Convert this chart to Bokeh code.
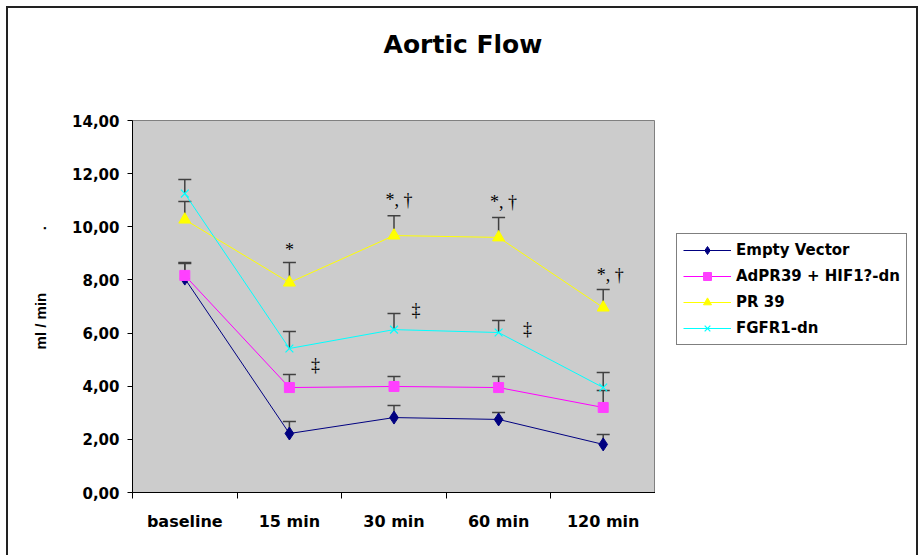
from bokeh.plotting import figure
from bokeh.layouts import column, row
from bokeh.models import (ColumnDataSource, Range1d, FixedTicker, CustomJSTickFormatter,
                          Whisker, TeeHead, Div)
from bokeh.embed import file_html
from bokeh.resources import INLINE

categories = ["baseline", "15 min", "30 min", "60 min", "120 min"]

empty_vector = [8.05, 2.22, 2.82, 2.75, 1.81]
empty_vector_err = [0.57, 0.45, 0.45, 0.26, 0.37]
adpr39_hif = [8.17, 3.95, 3.99, 3.95, 3.20]
adpr39_hif_err = [0.49, 0.49, 0.38, 0.42, 0.64]
pr39 = [10.27, 7.90, 9.67, 9.60, 6.96]
pr39_err = [0.68, 0.76, 0.75, 0.75, 0.68]
fgfr1_dn = [11.25, 5.42, 6.13, 6.02, 3.95]
fgfr1_dn_err = [0.53, 0.64, 0.61, 0.45, 0.57]

series_names = ["Empty Vector", "AdPR39 + HIF1?-dn", "PR 39", "FGFR1-dn"]

y_ticks = [0, 2, 4, 6, 8, 10, 12, 14]

# significance annotations: (category index, y value, text)
ann_cat = [1, 2, 3, 4, 1, 2, 3]
ann_y = [9.11, 10.99, 10.95, 8.17, 4.78, 6.85, 6.17]
ann_text = ["*", "*, \u2020", "*, \u2020", "*, \u2020", "\u2021", "\u2021", "\u2021"]
ann_dx = [0, 5, 5, 7, 26, 22, 29]

FONT = "DejaVu Sans"
NB = "\u00a0"

title = Div(text='<div style="width:922px; text-align:center; font-family:\'DejaVu Sans\'; '
                 'font-weight:bold; font-size:25px; line-height:29px; padding-top:30px; '
                 'padding-left:4px; color:black;">Aortic Flow</div>',
            width=922, height=60, margin=0)

p = figure(width=655, height=495, output_backend="svg", toolbar_location=None,
           x_range=Range1d(0, len(categories)), y_range=Range1d(0, 14),
           min_border_left=132, min_border_right=0, min_border_top=60,
           min_border_bottom=63)
p.background_fill_color = "#CCCCCC"
p.border_fill_color = "white"
p.outline_line_color = "#808080"
p.outline_line_width = 1
p.xgrid.visible = False
p.ygrid.visible = False

xs = [i + 0.5 for i in range(len(categories))]

# axes
p.xaxis.ticker = FixedTicker(ticks=xs, minor_ticks=list(range(len(categories) + 1)))
p.xaxis.formatter = CustomJSTickFormatter(args=dict(labels=categories),
                                          code="return labels[Math.floor(tick)];")
p.xaxis.major_tick_out = 0
p.xaxis.major_tick_in = 0
p.xaxis.minor_tick_out = 6
p.xaxis.minor_tick_in = 0
p.xaxis.minor_tick_line_color = "black"
p.xaxis.axis_line_color = "black"
p.xaxis.major_label_text_font = FONT
p.xaxis.major_label_text_font_style = "bold"
p.xaxis.major_label_text_font_size = "16px"
p.xaxis.major_label_text_color = "black"
p.xaxis.major_label_standoff = 13

p.yaxis.ticker = FixedTicker(ticks=y_ticks, minor_ticks=[])
p.yaxis.formatter = CustomJSTickFormatter(code="return tick.toFixed(2).replace('.', ',');")
p.yaxis.major_tick_out = 5
p.yaxis.major_tick_in = 0
p.yaxis.major_tick_line_color = "black"
p.yaxis.axis_line_color = "black"
p.yaxis.major_label_text_font = FONT
p.yaxis.major_label_text_font_style = "bold"
p.yaxis.major_label_text_font_size = "15px"
p.yaxis.major_label_text_color = "black"
p.yaxis.major_label_standoff = 8
p.yaxis.axis_label = NB * 9 + "ml / min" + NB * 15 + "."
p.yaxis.axis_label_text_font = "Liberation Sans"
p.yaxis.axis_label_text_font_style = "bold"
p.yaxis.axis_label_text_font_size = "15px"
p.yaxis.axis_label_text_color = "black"
p.yaxis.axis_label_standoff = 20

series = [
    (series_names[0], empty_vector, empty_vector_err, "#000080", "#000080", "diamond", 13),
    (series_names[1], adpr39_hif, adpr39_hif_err, "#FF00FF", "#FF40FF", "square", 10),
    (series_names[2], pr39, pr39_err, "#FFFF00", "#FFFF00", "triangle", 12),
    (series_names[3], fgfr1_dn, fgfr1_dn_err, "#00FFFF", "#00FFFF", "x", 11),
]

# legend panel (its own figure, to the right of the plot)
lf = figure(width=267, height=495, output_backend="svg", toolbar_location=None,
            x_range=Range1d(0, 1), y_range=Range1d(-2, -1),
            min_border_left=0, min_border_right=0, min_border_top=60, min_border_bottom=63,
            x_axis_location=None, y_axis_location=None)
lf.outline_line_color = None
lf.background_fill_color = "white"
lf.border_fill_color = "white"
lf.grid.visible = False

for name, vals, errs, lcol, mcol, marker, size in series:
    src = ColumnDataSource(dict(x=xs, y=vals, upper=[v + e for v, e in zip(vals, errs)]))
    w = Whisker(source=src, base="x", lower="y", upper="upper", dimension="height",
                line_color="#404040", line_width=1.5, level="underlay",
                upper_head=TeeHead(size=13, line_color="#404040", line_width=1.5),
                lower_head=None)
    p.add_layout(w)

for name, vals, errs, lcol, mcol, marker, size in series:
    src = ColumnDataSource(dict(x=xs, y=vals))
    for fig, kw in ((p, {}), (lf, {"legend_label": name})):
        fig.line("x", "y", source=src, line_color=lcol, line_width=1, **kw)
        if marker == "x":
            fig.scatter("x", "y", source=src, marker=marker, size=size, line_color=mcol,
                        line_width=1.2, **kw)
        else:
            fig.scatter("x", "y", source=src, marker=marker, size=size, fill_color=mcol,
                        line_color=mcol, **kw)

# annotations
ann_src = ColumnDataSource(dict(x=[ann_cat[i] + 0.5 for i in range(len(ann_cat))],
                                y=ann_y, text=ann_text, dx=ann_dx))
p.text("x", "y", text="text", source=ann_src, x_offset="dx", text_align="center",
       text_baseline="middle", text_font_size="18px", text_color="black",
       text_font="DejaVu Sans")

lg = lf.legend[0]
lg.location = (21, 147)
lg.border_line_color = "black"
lg.border_line_width = 1
lg.background_fill_color = "white"
lg.background_fill_alpha = 1
lg.label_text_font = FONT
lg.label_text_font_style = "bold"
lg.label_text_font_size = "15px"
lg.label_text_color = "black"
lg.glyph_width = 48
lg.glyph_height = 20
lg.label_height = 20
lg.spacing = 6
lg.padding = 6
lg.margin = 0
lg.label_standoff = 5

layout = column(title, row(p, lf, spacing=0), spacing=0)
layout.stylesheets = [":host { position: relative; }",
                      ":host::after { content: ''; position: absolute; left: 6px; top: 6px; "
                      "right: 4px; bottom: 0px; border: 2px solid #222; border-bottom: none; "
                      "pointer-events: none; z-index: 10; }"]

open("out.html", "w").write(file_html(layout, INLINE))
